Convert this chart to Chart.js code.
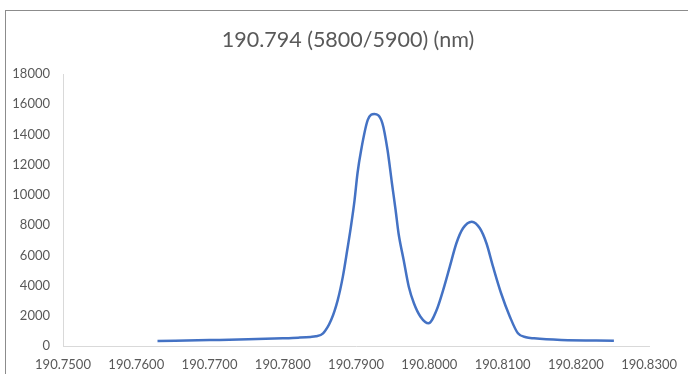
<!DOCTYPE html>
<html>
<head>
<meta charset="utf-8">
<script src="https://cdn.jsdelivr.net/npm/chart.js@4/dist/chart.umd.min.js"></script>
<style>
  html, body { margin: 0; padding: 0; background: #fff; overflow: hidden; }
  #wrap { position: relative; width: 688px; height: 374px; }
  #frame { position: absolute; left: 5px; top: 10px; width: 720px; height: 400px; border: 1px solid #8c8c8c; }
  canvas { position: absolute; left: 0; top: 0; }
</style>
</head>
<body>
<div id="wrap">
  <div id="frame"></div>
  <canvas id="chart-area" width="688" height="374"></canvas>
</div>
<script>
// wavelength (nm) and intensity
var wavelength = [
    190.7629, 190.7700, 190.7753, 190.7800, 190.7821, 190.7838,
    190.7845, 190.7855, 190.7866, 190.7875, 190.7882, 190.7888,
    190.7893, 190.7898, 190.7902, 190.7907, 190.7916, 190.7925,
    190.7936, 190.7943, 190.7949, 190.7954, 190.7958, 190.7965,
    190.7972, 190.7979, 190.7988, 190.7999, 190.8010, 190.8019,
    190.8028, 190.8037, 190.8046, 190.8058, 190.8069, 190.8078,
    190.8087, 190.8098, 190.8110, 190.8121, 190.8132, 190.8143,
    190.8180, 190.8252
];
var intensity = [
    330, 390, 440, 510, 550, 600,
    640, 840, 1720, 3040, 4590, 6350,
    7900, 9660, 11430, 12970, 14960, 15350,
    14740, 12970, 10770, 9000, 7460, 5690,
    3920, 2830, 1940, 1500, 2380, 3710,
    5250, 6800, 7790, 8230, 7790, 6800,
    5250, 3490, 1940, 840, 580, 510,
    400, 350
];
var xTicks = [190.75, 190.76, 190.77, 190.78, 190.79, 190.80, 190.81, 190.82, 190.83];
var yTicks = [0, 2000, 4000, 6000, 8000, 10000, 12000, 14000, 16000, 18000];
var chartTitle = "190.794 (5800/5900) (nm)";

var points = wavelength.map(function (w, i) { return { x: w, y: intensity[i] }; });

var tickFont = { family: "Lato", size: 13 };

// title centred on the whole picture, not on the plot area
var titlePlugin = {
    id: 'pageTitle',
    afterDraw: function (chart) {
        var c = chart.ctx;
        c.save();
        c.font = "21.5px Lato";
        c.fillStyle = "#595959";
        c.textAlign = "center";
        c.textBaseline = "middle";
        c.fillText(chartTitle, 348, 40);
        c.restore();
    }
};

var config = {
    type: 'line',
    data: {
        datasets: [{
            data: points,
            borderColor: "#4472C4",
            borderWidth: 2.5,
            pointRadius: 0,
            fill: false,
            cubicInterpolationMode: 'monotone'
        }]
    },
    options: {
        responsive: false,
        animation: false,
        devicePixelRatio: 1,
        layout: { padding: { left: 0, right: 34, top: 74, bottom: 0 } },
        plugins: {
            legend: { display: false },
            tooltip: { enabled: false },
            title: { display: false }
        },
        scales: {
            x: {
                type: 'linear',
                min: xTicks[0],
                max: xTicks[xTicks.length - 1],
                afterBuildTicks: function (scale) {
                    scale.ticks = xTicks.map(function (v) { return { value: v }; });
                },
                afterFit: function (scale) { scale.height = 28; },
                grid: { color: "rgba(0,0,0,0)", drawTicks: false },
                border: { display: true, color: "#d9d9d9", width: 1 },
                ticks: {
                    color: "#595959",
                    font: tickFont,
                    padding: 11,
                    maxRotation: 0,
                    autoSkip: false,
                    callback: function (v) { return Number(v).toFixed(4); }
                }
            },
            y: {
                min: yTicks[0],
                max: yTicks[yTicks.length - 1],
                afterBuildTicks: function (scale) {
                    scale.ticks = yTicks.map(function (v) { return { value: v }; });
                },
                afterFit: function (scale) { scale.width = 63; },
                grid: { color: "rgba(0,0,0,0)", drawTicks: false },
                border: { display: true, color: "#d9d9d9", width: 1 },
                ticks: {
                    color: "#595959",
                    font: tickFont,
                    padding: 13,
                    callback: function (v) { return String(v); }
                }
            }
        }
    },
    plugins: [titlePlugin]
};

window.onload = function () {
    var ctx = document.getElementById("chart-area").getContext("2d");
    window.myLine = new Chart(ctx, config);
};
</script>
</body>
</html>
